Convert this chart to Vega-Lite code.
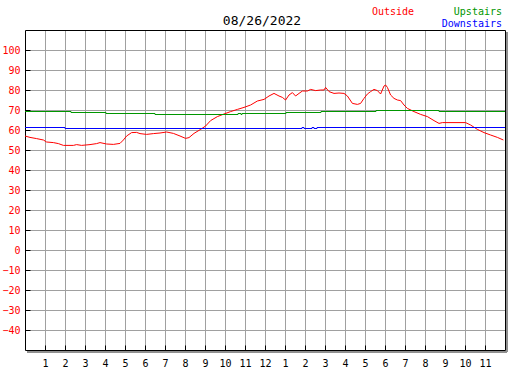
{
  "$schema": "https://vega.github.io/schema/vega-lite/v6.json",
  "width": 480,
  "height": 320,
  "autosize": "none",
  "padding": {"left": 25, "top": 30, "right": 22, "bottom": 20},
  "background": "white",
  "config": {"view": {"stroke": null}, "font": "DejaVu Sans Mono"},
  "datasets": {
    "temps": [
      {"series": "Outside", "hour": 0, "temp": 57},
      {"series": "Outside", "hour": 0.25, "temp": 56.3},
      {"series": "Outside", "hour": 0.58, "temp": 55.7},
      {"series": "Outside", "hour": 0.92, "temp": 55},
      {"series": "Outside", "hour": 1.08, "temp": 54},
      {"series": "Outside", "hour": 1.42, "temp": 53.7},
      {"series": "Outside", "hour": 1.67, "temp": 53.2},
      {"series": "Outside", "hour": 1.92, "temp": 52.3},
      {"series": "Outside", "hour": 2.42, "temp": 52.3},
      {"series": "Outside", "hour": 2.58, "temp": 52.7},
      {"series": "Outside", "hour": 2.83, "temp": 52.3},
      {"series": "Outside", "hour": 3.25, "temp": 52.7},
      {"series": "Outside", "hour": 3.58, "temp": 53.2},
      {"series": "Outside", "hour": 3.75, "temp": 53.7},
      {"series": "Outside", "hour": 4.08, "temp": 53},
      {"series": "Outside", "hour": 4.42, "temp": 52.8},
      {"series": "Outside", "hour": 4.75, "temp": 53.3},
      {"series": "Outside", "hour": 4.92, "temp": 55},
      {"series": "Outside", "hour": 5.08, "temp": 57},
      {"series": "Outside", "hour": 5.33, "temp": 58.7},
      {"series": "Outside", "hour": 5.58, "temp": 58.8},
      {"series": "Outside", "hour": 5.75, "temp": 58.2},
      {"series": "Outside", "hour": 6.08, "temp": 57.8},
      {"series": "Outside", "hour": 6.42, "temp": 58.2},
      {"series": "Outside", "hour": 6.75, "temp": 58.5},
      {"series": "Outside", "hour": 7.08, "temp": 59},
      {"series": "Outside", "hour": 7.42, "temp": 58.3},
      {"series": "Outside", "hour": 7.75, "temp": 57},
      {"series": "Outside", "hour": 8.03, "temp": 55.8},
      {"series": "Outside", "hour": 8.2, "temp": 56.2},
      {"series": "Outside", "hour": 8.45, "temp": 58.3},
      {"series": "Outside", "hour": 8.78, "temp": 60.3},
      {"series": "Outside", "hour": 9.03, "temp": 62},
      {"series": "Outside", "hour": 9.28, "temp": 64.7},
      {"series": "Outside", "hour": 9.62, "temp": 66.7},
      {"series": "Outside", "hour": 9.95, "temp": 68},
      {"series": "Outside", "hour": 10.28, "temp": 69.2},
      {"series": "Outside", "hour": 10.62, "temp": 70.3},
      {"series": "Outside", "hour": 10.95, "temp": 71.3},
      {"series": "Outside", "hour": 11.28, "temp": 72.5},
      {"series": "Outside", "hour": 11.62, "temp": 74.5},
      {"series": "Outside", "hour": 11.95, "temp": 75.3},
      {"series": "Outside", "hour": 12.2, "temp": 77},
      {"series": "Outside", "hour": 12.45, "temp": 78.3},
      {"series": "Outside", "hour": 12.7, "temp": 77},
      {"series": "Outside", "hour": 12.87, "temp": 76.3},
      {"series": "Outside", "hour": 13.03, "temp": 75},
      {"series": "Outside", "hour": 13.2, "temp": 77.5},
      {"series": "Outside", "hour": 13.37, "temp": 78.7},
      {"series": "Outside", "hour": 13.53, "temp": 77},
      {"series": "Outside", "hour": 13.7, "temp": 78.3},
      {"series": "Outside", "hour": 13.87, "temp": 79.5},
      {"series": "Outside", "hour": 14.12, "temp": 79.5},
      {"series": "Outside", "hour": 14.28, "temp": 80.3},
      {"series": "Outside", "hour": 14.53, "temp": 79.7},
      {"series": "Outside", "hour": 14.78, "temp": 80},
      {"series": "Outside", "hour": 14.95, "temp": 80},
      {"series": "Outside", "hour": 15.03, "temp": 81.3},
      {"series": "Outside", "hour": 15.2, "temp": 79.2},
      {"series": "Outside", "hour": 15.45, "temp": 78.3},
      {"series": "Outside", "hour": 15.7, "temp": 78.5},
      {"series": "Outside", "hour": 15.95, "temp": 78.3},
      {"series": "Outside", "hour": 16.12, "temp": 77},
      {"series": "Outside", "hour": 16.37, "temp": 73.3},
      {"series": "Outside", "hour": 16.62, "temp": 72.8},
      {"series": "Outside", "hour": 16.78, "temp": 73.3},
      {"series": "Outside", "hour": 16.95, "temp": 75.8},
      {"series": "Outside", "hour": 17.12, "temp": 78},
      {"series": "Outside", "hour": 17.28, "temp": 79.2},
      {"series": "Outside", "hour": 17.45, "temp": 80.3},
      {"series": "Outside", "hour": 17.62, "temp": 79.7},
      {"series": "Outside", "hour": 17.78, "temp": 78},
      {"series": "Outside", "hour": 17.95, "temp": 82},
      {"series": "Outside", "hour": 18.03, "temp": 82.5},
      {"series": "Outside", "hour": 18.12, "temp": 81.3},
      {"series": "Outside", "hour": 18.28, "temp": 77.5},
      {"series": "Outside", "hour": 18.45, "temp": 75.8},
      {"series": "Outside", "hour": 18.62, "temp": 75},
      {"series": "Outside", "hour": 18.78, "temp": 74.7},
      {"series": "Outside", "hour": 18.95, "temp": 72.5},
      {"series": "Outside", "hour": 19.12, "temp": 70.8},
      {"series": "Outside", "hour": 19.45, "temp": 69.2},
      {"series": "Outside", "hour": 19.78, "temp": 67.8},
      {"series": "Outside", "hour": 20.12, "temp": 66.7},
      {"series": "Outside", "hour": 20.45, "temp": 64.7},
      {"series": "Outside", "hour": 20.7, "temp": 63.3},
      {"series": "Outside", "hour": 20.87, "temp": 63.7},
      {"series": "Outside", "hour": 22.03, "temp": 63.7},
      {"series": "Outside", "hour": 22.28, "temp": 62.5},
      {"series": "Outside", "hour": 22.62, "temp": 60.3},
      {"series": "Outside", "hour": 22.95, "temp": 58.7},
      {"series": "Outside", "hour": 23.28, "temp": 57.5},
      {"series": "Outside", "hour": 23.62, "temp": 56.3},
      {"series": "Outside", "hour": 23.92, "temp": 55},
      {"series": "Upstairs", "hour": 0, "temp": 69.25},
      {"series": "Upstairs", "hour": 2.3, "temp": 68.75},
      {"series": "Upstairs", "hour": 4.05, "temp": 68.25},
      {"series": "Upstairs", "hour": 6.5, "temp": 67.75},
      {"series": "Upstairs", "hour": 10.65, "temp": 68.25},
      {"series": "Upstairs", "hour": 10.8, "temp": 67.75},
      {"series": "Upstairs", "hour": 10.85, "temp": 68.25},
      {"series": "Upstairs", "hour": 13.05, "temp": 68.75},
      {"series": "Upstairs", "hour": 14.8, "temp": 69.25},
      {"series": "Upstairs", "hour": 17.55, "temp": 69.75},
      {"series": "Upstairs", "hour": 20.7, "temp": 69.25},
      {"series": "Upstairs", "hour": 24, "temp": 69.25},
      {"series": "Downstairs", "hour": 0, "temp": 61.25},
      {"series": "Downstairs", "hour": 2.0, "temp": 60.75},
      {"series": "Downstairs", "hour": 13.85, "temp": 61.25},
      {"series": "Downstairs", "hour": 13.95, "temp": 60.75},
      {"series": "Downstairs", "hour": 14.35, "temp": 61.25},
      {"series": "Downstairs", "hour": 14.45, "temp": 60.75},
      {"series": "Downstairs", "hour": 14.6, "temp": 61.25},
      {"series": "Downstairs", "hour": 24, "temp": 61.25}
    ]
  },
  "resolve": {"axis": {"x": "independent", "y": "independent"}},
  "layer": [
    {
      "data": {"values": [{}]},
      "mark": {"type": "rule", "color": "#909090", "strokeWidth": 2, "xOffset": 2, "yOffset": 2, "y2Offset": 2},
      "encoding": {
        "x": {"datum": 24, "type": "quantitative", "axis": null},
        "y": {"datum": 110, "type": "quantitative", "axis": null},
        "y2": {"datum": -50}
      }
    },
    {
      "data": {"values": [{}]},
      "mark": {"type": "rule", "color": "#909090", "strokeWidth": 2, "yOffset": 2, "xOffset": 2, "x2Offset": 2},
      "encoding": {
        "x": {"datum": 0, "type": "quantitative", "axis": null},
        "x2": {"datum": 24},
        "y": {"datum": -50, "type": "quantitative", "axis": null}
      }
    },
    {
      "data": {"name": "temps"},
      "transform": [{"filter": "datum.series === 'Outside'"}],
      "mark": {"type": "line", "strokeWidth": 1, "color": "#ff0000", "interpolate": "linear"},
      "encoding": {
        "x": {
          "field": "hour", "type": "quantitative",
          "scale": {"domain": [0, 24], "nice": false, "zero": false},
          "axis": {
            "orient": "bottom", "title": null,
            "values": [1,2,3,4,5,6,7,8,9,10,11,12,13,14,15,16,17,18,19,20,21,22,23],
            "labelExpr": "datum.value % 12 == 0 ? '12' : '' + (datum.value % 12)",
            "grid": true, "gridColor": "#a0a0a0", "gridWidth": 1, "gridOpacity": 1,
            "domain": true, "domainColor": "#000000", "domainWidth": 1,
            "ticks": true, "tickColor": "#000000", "tickSize": -5, "tickWidth": 1,
            "labelFont": "DejaVu Sans Mono", "labelFontSize": 10, "labelColor": "#000000",
            "labelPadding": 13, "labelFlush": false, "labelOverlap": false
          }
        },
        "y": {
          "field": "temp", "type": "quantitative",
          "scale": {"domain": [-50, 110], "nice": false, "zero": false},
          "axis": {
            "orient": "left", "title": null,
            "values": [-40,-30,-20,-10,0,10,20,30,40,50,60,70,80,90,100],
            "grid": true, "gridColor": "#a0a0a0", "gridWidth": 1, "gridOpacity": 1,
            "domain": true, "domainColor": "#000000", "domainWidth": 1,
            "ticks": true, "tickColor": "#000000", "tickSize": -5, "tickWidth": 1,
            "labelFont": "DejaVu Sans Mono", "labelFontSize": 10, "labelColor": "#ff0000",
            "labelPadding": 10, "labelFlush": false, "labelOverlap": false
          }
        }
      }
    },
    {
      "data": {"name": "temps"},
      "transform": [{"filter": "datum.series !== 'Outside'"}],
      "mark": {"type": "line", "strokeWidth": 1, "interpolate": "step-after"},
      "encoding": {
        "x": {
          "field": "hour", "type": "quantitative",
          "axis": {"orient": "top", "title": null, "labels": false, "ticks": false, "grid": false, "domain": true, "domainColor": "#000000", "domainWidth": 1}
        },
        "y": {
          "field": "temp", "type": "quantitative",
          "axis": {"orient": "right", "title": null, "labels": false, "ticks": false, "grid": false, "domain": true, "domainColor": "#000000", "domainWidth": 1}
        },
        "color": {
          "field": "series", "type": "nominal",
          "scale": {"domain": ["Upstairs", "Downstairs"], "range": ["#009600", "#0000ff"]},
          "legend": null
        }
      }
    },
    {
      "data": {"values": [{}]},
      "mark": {"type": "text", "text": "08/26/2022", "font": "DejaVu Sans Mono", "fontSize": 13, "color": "#000000", "align": "center", "baseline": "alphabetic"},
      "encoding": {
        "x": {"datum": 11.85, "type": "quantitative", "axis": null},
        "y": {"datum": 112.5, "type": "quantitative", "axis": null}
      }
    },
    {
      "data": {"values": [{}]},
      "mark": {"type": "text", "text": "Outside", "font": "DejaVu Sans Mono", "fontSize": 10, "color": "#ff0000", "align": "left", "baseline": "alphabetic"},
      "encoding": {
        "x": {"datum": 17.35, "type": "quantitative", "axis": null},
        "y": {"datum": 117.5, "type": "quantitative", "axis": null}
      }
    },
    {
      "data": {"values": [{}]},
      "mark": {"type": "text", "text": "Upstairs", "font": "DejaVu Sans Mono", "fontSize": 10, "color": "#009600", "align": "right", "baseline": "alphabetic"},
      "encoding": {
        "x": {"datum": 23.85, "type": "quantitative", "axis": null},
        "y": {"datum": 117.5, "type": "quantitative", "axis": null}
      }
    },
    {
      "data": {"values": [{}]},
      "mark": {"type": "text", "text": "Downstairs", "font": "DejaVu Sans Mono", "fontSize": 10, "color": "#0000ff", "align": "right", "baseline": "alphabetic"},
      "encoding": {
        "x": {"datum": 23.85, "type": "quantitative", "axis": null},
        "y": {"datum": 111.5, "type": "quantitative", "axis": null}
      }
    }
  ]
}
